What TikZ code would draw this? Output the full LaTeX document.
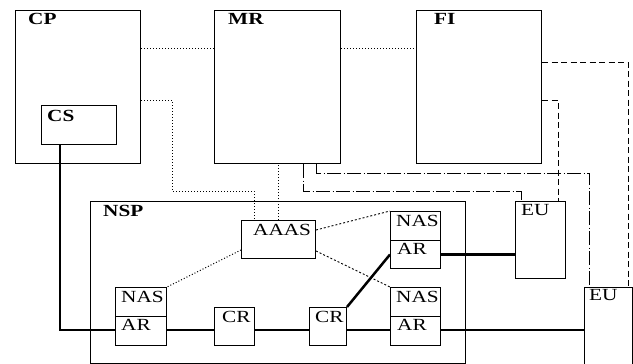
\documentclass[tikz,border=0pt]{standalone}
\usepackage{fontspec}
\newfontfamily\lblfont[FakeStretch=1.25]{Liberation Serif}
\begin{document}
\begin{tikzpicture}[x=1pt,y=-1pt,
  box/.style={draw,line width=1pt,inner sep=0pt,anchor=north west,minimum width=#1},
  lbl/.style={anchor=base west,inner sep=0pt,font=\lblfont\fontsize{17}{17}\selectfont},
  blbl/.style={lbl,font=\lblfont\fontsize{17}{17}\selectfont\bfseries},
  dots/.style={line width=1pt,dash pattern=on 1pt off 2pt},
  fdash/.style={line width=0.9pt,dash pattern=on 2pt off 2pt},
  ldash/.style={line width=0.9pt,dash pattern=on 6pt off 3.5pt},
  dashdot/.style={line width=0.9pt,dash pattern=on 14pt off 2.5pt on 1pt off 2.5pt},
  thick line/.style={line width=2.5pt}]
\useasboundingbox (0,0) rectangle (633,364);
% boxes
\node[box=125pt,minimum height=153pt] (cp) at (15,10) {};
\node[box=75pt,minimum height=39pt] (cs) at (41,105) {};
\node[box=126pt,minimum height=153pt] (mr) at (214,10) {};
\node[box=125pt,minimum height=153pt] (fi) at (416,10) {};
\node[box=375pt,minimum height=162pt] (nsp) at (90,201) {};
\node[box=74pt,minimum height=38pt] (aaas) at (241,220) {};
\node[box=51pt,minimum height=29pt] (nas1) at (115,287) {};
\node[box=51pt,minimum height=29pt] (ar1) at (115,316) {};
\node[box=40pt,minimum height=38pt] (cr1) at (214,307) {};
\node[box=37pt,minimum height=38pt] (cr2) at (309,307) {};
\node[box=50pt,minimum height=29pt] (nas2) at (390,211) {};
\node[box=50pt,minimum height=28pt] (ar2) at (390,240) {};
\node[box=50pt,minimum height=29pt] (nas3) at (390,287) {};
\node[box=50pt,minimum height=29pt] (ar3) at (390,316) {};
\node[box=50pt,minimum height=77pt] (eu1) at (515,201) {};
\node[box=48pt,minimum height=77pt] (eu2) at (584,287) {};
% labels
\node[blbl] (tcp) at (28,24) {CP};
\node[blbl] (tmr) at (228,24) {MR};
\node[blbl] (tfi) at (434,24) {FI};
\node[blbl] (tcs) at (47,121) {CS};
\node[blbl] (tnsp) at (103,216) {NSP};
\node[lbl] (taaas) at (253,235) {AAAS};
\node[lbl] (tnas1) at (121,302) {NAS};
\node[lbl] (tar1) at (121,330) {AR};
\node[lbl] (tcr1) at (222,322) {CR};
\node[lbl] (tcr2) at (315,322) {CR};
\node[lbl] (tnas2) at (396,226) {NAS};
\node[lbl] (tar2) at (397,254) {AR};
\node[lbl] (tnas3) at (396,302) {NAS};
\node[lbl] (tar3) at (397,330) {AR};
\node[lbl] (teu1) at (521,215) {EU};
\node[lbl] (teu2) at (589,300) {EU};
% bend coordinates
\coordinate (csx) at (60,330);
\coordinate (b1) at (172,191);
\coordinate (b2) at (521,191);
\coordinate (b3) at (589,173);
\coordinate (b4) at (628,62);
\coordinate (b5) at (558,100);
% thick links
\draw[thick line] (cs.south -| csx) -- (csx) -- (csx -| ar1.west);
\draw[thick line] (ar1.east |- csx) -- (csx -| cr1.west);
\draw[thick line] (cr1.east |- csx) -- (csx -| cr2.west);
\draw[thick line] (cr2.east |- csx) -- (csx -| ar3.west);
\draw[thick line] (ar3.east |- csx) -- (csx -| eu2.west);
\draw[thick line] (cr2.north east) -- (ar2.west);
\draw[thick line] (ar2.east) -- (ar2.east -| eu1.west);
% dotted links
\draw[dots] ([yshift=-38pt]cp.north east) -- ([yshift=-38pt]mr.north west);
\draw[dots] ([yshift=-38pt]mr.north east) -- ([yshift=-38pt]fi.north west);
\draw[dots] ([yshift=-90pt]cp.north east) -| (b1) -| ([xshift=13pt]aaas.north west);
\draw[dots] (aaas.north) -- (aaas.north |- mr.south);
\draw[dots] ([yshift=9pt]aaas.south west) -- (nas1.north east);
\draw[fdash] ([yshift=-10pt]aaas.north east) -- (nas2.north west);
\draw[fdash] ([yshift=8pt]aaas.south east) -- (nas3.north west);
% dash-dot links
\draw[dashdot] ([xshift=-38pt]mr.south east) |- (b2) -- (b2 |- eu1.north);
\draw[dashdot] ([xshift=-25pt]mr.south east) |- (b3) -- (b3 |- eu2.north);
% dashed links
\draw[ldash] ([yshift=-52pt]fi.north east) -| (b4) -- (b4 |- eu2.north);
\draw[ldash] ([yshift=-90pt]fi.north east) -| (b5) -- (b5 |- eu1.north);
\end{tikzpicture}
\end{document}
